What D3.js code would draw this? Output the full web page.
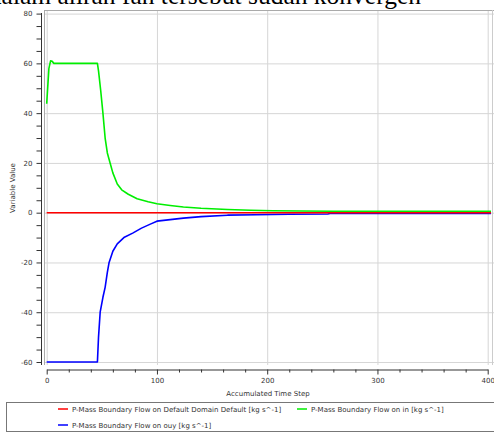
<!DOCTYPE html>
<html>
<head>
<meta charset="utf-8">
<script src="https://cdn.jsdelivr.net/npm/d3@7"></script>
<style>
  body { margin: 0; background: #fff; }
  svg { display: block; }
  .tick text { font-family: "DejaVu Sans", Verdana, sans-serif; font-size: 7px; fill: #333; }
</style>
</head>
<body>
<div id="chart"></div>
<script>
// data
const redSeries = [[0, 0], [403, 0]];
const greenSeries = [[0, 43.8], [2, 58], [3.5, 61], [5, 60.8], [6.5, 60], [46, 60], [47, 57],
  [49, 49], [51, 40], [53, 30], [55, 24], [57.5, 20], [60, 16], [64, 11.5], [68, 9.2], [74, 7.4],
  [82, 5.6], [92, 4.4], [100, 3.6], [112, 2.9], [124, 2.3], [140, 1.8], [164, 1.3], [185, 1.0],
  [205, 0.8], [230, 0.7], [260, 0.6], [300, 0.6], [350, 0.55], [403, 0.55]];
const blueSeries = [[0, -60], [46, -60], [47, -50], [48.5, -40], [51, -34], [53, -30], [55, -24],
  [56.6, -20], [60, -15.5], [64, -12.5], [70, -10], [78, -8.2], [86, -6.2], [94, -4.6], [100, -3.4],
  [112, -2.8], [124, -2.2], [140, -1.6], [164, -1.0], [190, -0.8], [220, -0.6], [255, -0.5],
  [257, -0.35], [300, -0.35], [403, -0.35]];
const xTicks = [0, 100, 200, 300, 400];
const yTicks = [80, 60, 40, 20, 0, -20, -40, -60];
const legendLabels = [
  "P-Mass Boundary Flow on Default Domain Default [kg s^-1]",
  "P-Mass Boundary Flow on in [kg s^-1]",
  "P-Mass Boundary Flow on ouy [kg s^-1]"
];
const colors = ["#ff0000", "#00ee00", "#0000ff"];

const W = 494, H = 434;
const svg = d3.select("#chart").append("svg").attr("width", W).attr("height", H);

const x = d3.scaleLinear().domain([0, 400]).range([46.7, 487.7]);
const y = d3.scaleLinear().domain([-60, 80]).range([362, 13.6]);
const smallFont = "'DejaVu Sans', Verdana, sans-serif";

// caption text cut off at the top of the screenshot
svg.append("text")
  .attr("x", 421).attr("y", 4)
  .attr("text-anchor", "end")
  .style("font-family", "'Liberation Serif', 'Times New Roman', serif")
  .style("font-size", "25.5px")
  .text("dalam aliran fan tersebut sudah konvergen");

// grid
const grid = svg.append("g");
grid.selectAll(".gx").data(xTicks).enter().append("line")
  .attr("x1", d => x(d) + 0.5).attr("x2", d => x(d) + 0.5)
  .attr("y1", 11).attr("y2", 365)
  .attr("stroke", "#d6d6d6");
grid.selectAll(".gy").data(yTicks).enter().append("line")
  .attr("x1", 44).attr("x2", W)
  .attr("y1", d => y(d) + 0.5).attr("y2", d => y(d) + 0.5)
  .attr("stroke", "#d6d6d6");

// frame
svg.append("line").attr("x1", 44).attr("x2", W).attr("y1", 10.5).attr("y2", 10.5).attr("stroke", "#aaa");
svg.append("line").attr("x1", 44.5).attr("x2", 44.5).attr("y1", 10).attr("y2", 365).attr("stroke", "#aaa");
svg.append("line").attr("x1", 492.5).attr("x2", 492.5).attr("y1", 10).attr("y2", 365).attr("stroke", "#ccc");

// y axis
const yAxis = d3.axisLeft(y).tickValues(d3.range(-60, 81, 5)).tickSize(5)
  .tickFormat(d => d % 20 === 0 ? d : "");
const gy = svg.append("g").attr("transform", "translate(41.5,0)").call(yAxis);
gy.select(".domain").attr("d", "M0,13V365").attr("stroke", "#333");
gy.selectAll(".tick line").attr("stroke", "#333");
gy.selectAll(".tick text").attr("x", -9);

// x axis
const xAxis = d3.axisBottom(x).tickValues(d3.range(0, 401, 20)).tickSizeInner(3).tickSizeOuter(0)
  .tickFormat(d => d % 100 === 0 ? d : "");
const gx = svg.append("g").attr("transform", "translate(0,369.5)").call(xAxis);
gx.select(".domain").attr("stroke", "#333");
gx.selectAll(".tick line").attr("stroke", "#333").attr("y2", d => d % 100 === 0 ? 5 : 3);
gx.selectAll(".tick text").attr("y", 9);

svg.append("text")
  .attr("x", 268).attr("y", 396)
  .attr("text-anchor", "middle")
  .style("font-family", smallFont)
  .style("font-size", "7px").style("fill", "#333")
  .text("Accumulated Time Step");

svg.append("text")
  .attr("transform", "translate(15,188) rotate(-90)")
  .attr("text-anchor", "middle")
  .style("font-family", smallFont)
  .style("font-size", "7px").style("fill", "#333")
  .text("Variable Value");

// lines
const line = d3.line().x(d => x(d[0])).y(d => y(d[1]));
const plot = svg.append("g");
[redSeries, greenSeries, blueSeries].forEach((s, i) => {
  plot.append("path").datum(s)
    .attr("d", line)
    .attr("fill", "none")
    .attr("stroke", colors[i])
    .attr("stroke-width", 1.6)
    .attr("stroke-linejoin", "round");
});
// red drawn on top as in reference
plot.select("path").raise();

// legend
const leg = svg.append("g");
leg.append("rect").attr("x", 6.5).attr("y", 402.5).attr("width", 490).attr("height", 29)
  .attr("fill", "#fff").attr("stroke", "#777");
const legPos = [[58, 409], [297, 409], [58, 425]];
legendLabels.forEach((t, i) => {
  const p = legPos[i];
  leg.append("line").attr("x1", p[0]).attr("x2", p[0] + 10)
    .attr("y1", p[1]).attr("y2", p[1])
    .attr("stroke", colors[i]).attr("stroke-width", 1.5);
  leg.append("text").attr("x", p[0] + 14).attr("y", p[1] + 2.5)
    .style("font-family", smallFont)
    .style("font-size", "7px").style("fill", "#333")
    .text(t);
});
</script>
</body>
</html>
